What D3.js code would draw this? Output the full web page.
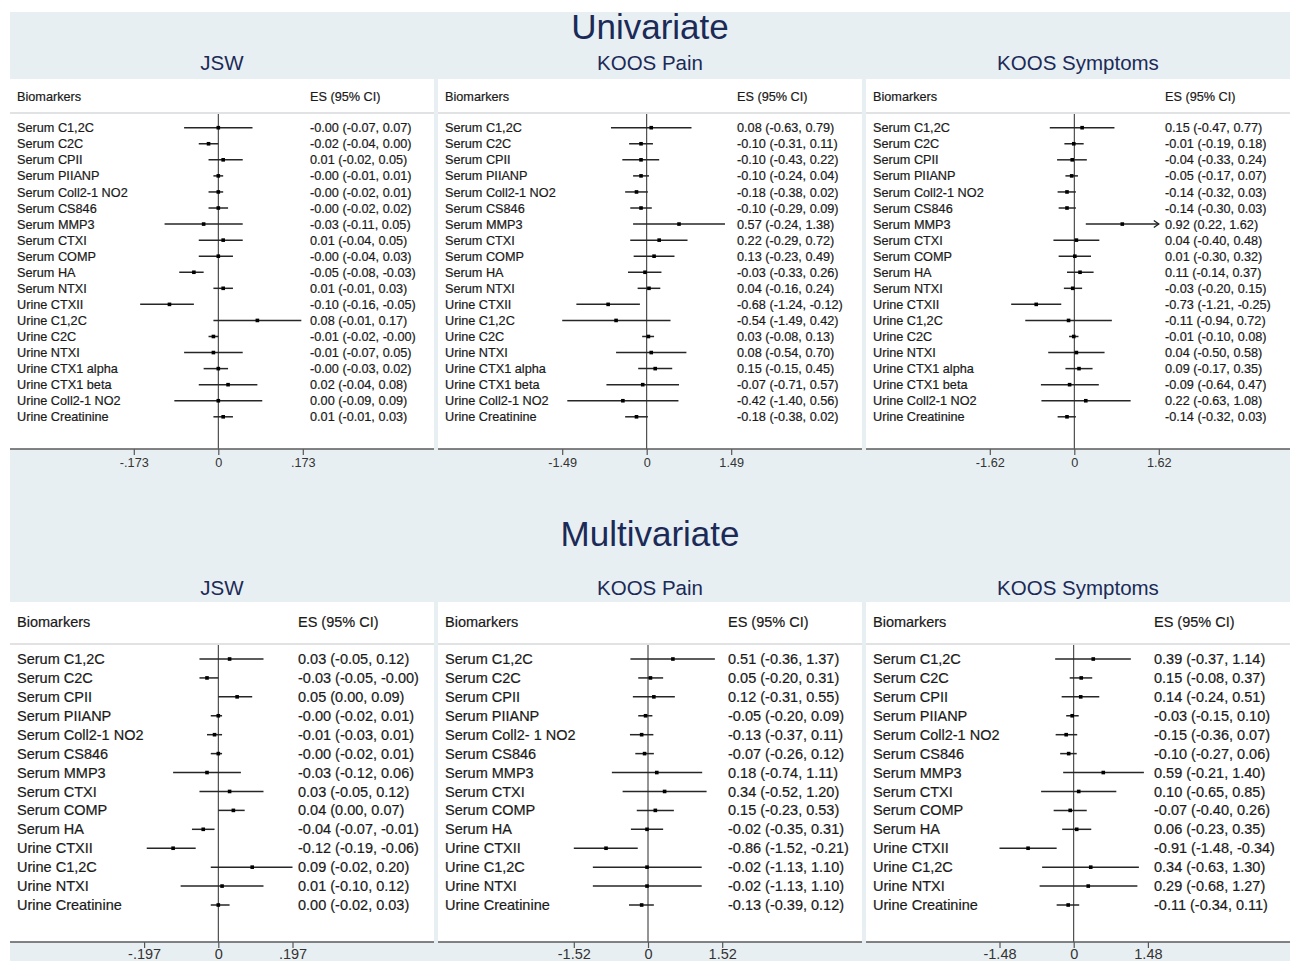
<!DOCTYPE html>
<html>
<head>
<meta charset="utf-8">
<script src="https://cdn.jsdelivr.net/npm/d3@7"></script>
<style>
  body { margin: 0; background: #fff; }
  svg { display: block; font-family: "Liberation Sans", Arial, sans-serif; }
  .txt { stroke: #1a1a1a; stroke-width: 0.2px; }
</style>
</head>
<body>
<div id="d3-container"></div>
<script>
/* CONSTANTS AND GLOBALS */
const width = 1290,
  height = 961,
  bgColor = "#e8eff2",
  navy = "#1b2a57",
  ink = "#1a1a1a";

/* DATA */
const uniMarkers = ["Serum C1,2C", "Serum C2C", "Serum CPII", "Serum PIIANP", "Serum Coll2-1 NO2",
  "Serum CS846", "Serum MMP3", "Serum CTXI", "Serum COMP", "Serum HA", "Serum NTXI", "Urine CTXII",
  "Urine C1,2C", "Urine C2C", "Urine NTXI", "Urine CTX1 alpha", "Urine CTX1 beta", "Urine Coll2-1 NO2",
  "Urine Creatinine"];
const multiMarkers = ["Serum C1,2C", "Serum C2C", "Serum CPII", "Serum PIIANP", "Serum Coll2-1 NO2",
  "Serum CS846", "Serum MMP3", "Serum CTXI", "Serum COMP", "Serum HA", "Urine CTXII", "Urine C1,2C",
  "Urine NTXI", "Urine Creatinine"];
const multiMarkersPain = ["Serum C1,2C", "Serum C2C", "Serum CPII", "Serum PIIANP", "Serum Coll2- 1 NO2",
  "Serum CS846", "Serum MMP3", "Serum CTXI", "Serum COMP", "Serum HA", "Urine CTXII", "Urine C1,2C",
  "Urine NTXI", "Urine Creatinine"];

const outcomes = ["JSW", "KOOS Pain", "KOOS Symptoms"];

// univariate
const uniJswEs = [-0.00, -0.02, 0.01, -0.00, -0.00, -0.00, -0.03, 0.01, -0.00, -0.05, 0.01, -0.10, 0.08, -0.01, -0.01, -0.00, 0.02, 0.00, 0.01];
const uniJswLo = [-0.07, -0.04, -0.02, -0.01, -0.02, -0.02, -0.11, -0.04, -0.04, -0.08, -0.01, -0.16, -0.01, -0.02, -0.07, -0.03, -0.04, -0.09, -0.01];
const uniJswHi = [0.07, 0.00, 0.05, 0.01, 0.01, 0.02, 0.05, 0.05, 0.03, -0.03, 0.03, -0.05, 0.17, -0.00, 0.05, 0.02, 0.08, 0.09, 0.03];

const uniPainEs = [0.08, -0.10, -0.10, -0.10, -0.18, -0.10, 0.57, 0.22, 0.13, -0.03, 0.04, -0.68, -0.54, 0.03, 0.08, 0.15, -0.07, -0.42, -0.18];
const uniPainLo = [-0.63, -0.31, -0.43, -0.24, -0.38, -0.29, -0.24, -0.29, -0.23, -0.33, -0.16, -1.24, -1.49, -0.08, -0.54, -0.15, -0.71, -1.40, -0.38];
const uniPainHi = [0.79, 0.11, 0.22, 0.04, 0.02, 0.09, 1.38, 0.72, 0.49, 0.26, 0.24, -0.12, 0.42, 0.13, 0.70, 0.45, 0.57, 0.56, 0.02];

const uniSympEs = [0.15, -0.01, -0.04, -0.05, -0.14, -0.14, 0.92, 0.04, 0.01, 0.11, -0.03, -0.73, -0.11, -0.01, 0.04, 0.09, -0.09, 0.22, -0.14];
const uniSympLo = [-0.47, -0.19, -0.33, -0.17, -0.32, -0.30, 0.22, -0.40, -0.30, -0.14, -0.20, -1.21, -0.94, -0.10, -0.50, -0.17, -0.64, -0.63, -0.32];
const uniSympHi = [0.77, 0.18, 0.24, 0.07, 0.03, 0.03, 1.62, 0.48, 0.32, 0.37, 0.15, -0.25, 0.72, 0.08, 0.58, 0.35, 0.47, 1.08, 0.03];
const uniSympOffScale = ["Serum MMP3"]; // upper CI runs past the axis, drawn with an arrow

// multivariate
const multiJswEs = [0.03, -0.03, 0.05, -0.00, -0.01, -0.00, -0.03, 0.03, 0.04, -0.04, -0.12, 0.09, 0.01, 0.00];
const multiJswLo = [-0.05, -0.05, 0.00, -0.02, -0.03, -0.02, -0.12, -0.05, 0.00, -0.07, -0.19, -0.02, -0.10, -0.02];
const multiJswHi = [0.12, -0.00, 0.09, 0.01, 0.01, 0.01, 0.06, 0.12, 0.07, -0.01, -0.06, 0.20, 0.12, 0.03];

const multiPainEs = [0.51, 0.05, 0.12, -0.05, -0.13, -0.07, 0.18, 0.34, 0.15, -0.02, -0.86, -0.02, -0.02, -0.13];
const multiPainLo = [-0.36, -0.20, -0.31, -0.20, -0.37, -0.26, -0.74, -0.52, -0.23, -0.35, -1.52, -1.13, -1.13, -0.39];
const multiPainHi = [1.37, 0.31, 0.55, 0.09, 0.11, 0.12, 1.11, 1.20, 0.53, 0.31, -0.21, 1.10, 1.10, 0.12];

const multiSympEs = [0.39, 0.15, 0.14, -0.03, -0.15, -0.10, 0.59, 0.10, -0.07, 0.06, -0.91, 0.34, 0.29, -0.11];
const multiSympLo = [-0.37, -0.08, -0.24, -0.15, -0.36, -0.27, -0.21, -0.65, -0.40, -0.23, -1.48, -0.63, -0.68, -0.34];
const multiSympHi = [1.14, 0.37, 0.51, 0.10, 0.07, 0.06, 1.40, 0.85, 0.26, 0.35, -0.34, 1.30, 1.27, 0.11];

// axis ticks (symmetric around 0)
const uniTicks = [0.173, 1.49, 1.62];
const uniTickLabels = [["-.173", "0", ".173"], ["-1.49", "0", "1.49"], ["-1.62", "0", "1.62"]];
const multiTicks = [0.197, 1.52, 1.48];
const multiTickLabels = [["-.197", "0", ".197"], ["-1.52", "0", "1.52"], ["-1.48", "0", "1.48"]];

/* LAYOUT */
const panelX = [10, 438, 866],
  panelW = 424;

const sections = [
  {
    title: "Univariate", titleY: 39, subY: 70, top: 79, headY: 113, headBase: 100.7,
    axisY: 449, rowTop: 127.7, rowBottom: 416.8, half: 84.5, fontSize: 12.7, baseOff: 4.6,
    esOff: [300, 299, 299], zeroOff: [208.3, 208.7, 208.3], tickPad: 3,
    panels: [
      { labels: uniMarkers, es: uniJswEs, lo: uniJswLo, hi: uniJswHi, off: [] },
      { labels: uniMarkers, es: uniPainEs, lo: uniPainLo, hi: uniPainHi, off: [] },
      { labels: uniMarkers, es: uniSympEs, lo: uniSympLo, hi: uniSympHi, off: uniSympOffScale }
    ],
    ticks: uniTicks, tickLabels: uniTickLabels
  },
  {
    title: "Multivariate", titleY: 546, subY: 595, top: 602, headY: 644, headBase: 626.7,
    axisY: 942, rowTop: 659, rowBottom: 905, half: 74.2, fontSize: 14.5, baseOff: 5.1,
    esOff: [288, 290, 288], zeroOff: [208.3, 210, 207.7], tickPad: 0.6,
    panels: [
      { labels: multiMarkers, es: multiJswEs, lo: multiJswLo, hi: multiJswHi, off: [] },
      { labels: multiMarkersPain, es: multiPainEs, lo: multiPainLo, hi: multiPainHi, off: [] },
      { labels: multiMarkers, es: multiSympEs, lo: multiSympLo, hi: multiSympHi, off: [] }
    ],
    ticks: multiTicks, tickLabels: multiTickLabels
  }
];

// keep the sign on -0.00 like the original table
const fmt = v => (v < 0 || Object.is(v, -0) ? "-" : "") + Math.abs(v).toFixed(2);

/* CREATE SVG ELEMENT */
const svg = d3
  .select("#d3-container")
  .append("svg")
  .attr("width", width)
  .attr("height", height);

svg.append("rect")
  .attr("x", 10).attr("y", 12)
  .attr("width", width - 10).attr("height", height - 12)
  .attr("fill", bgColor);

sections.forEach(sec => {
  svg.append("text")
    .attr("x", 650).attr("y", sec.titleY)
    .attr("text-anchor", "middle")
    .attr("font-size", 35)
    .attr("fill", navy)
    .text(sec.title);

  sec.panels.forEach((p, i) => drawPanel(sec, p, i));
});

/* DRAW ONE FOREST PANEL */
function drawPanel(sec, p, i) {
  const px = panelX[i];
  const g = svg.append("g");

  // outcome title
  g.append("text")
    .attr("x", px + panelW / 2).attr("y", sec.subY)
    .attr("text-anchor", "middle")
    .attr("font-size", 20.5)
    .attr("fill", navy)
    .text(outcomes[i]);

  // white plot area
  g.append("rect")
    .attr("x", px).attr("y", sec.top)
    .attr("width", panelW).attr("height", sec.axisY - sec.top)
    .attr("fill", "#fff");

  g.append("line")
    .attr("x1", px).attr("x2", px + panelW)
    .attr("y1", sec.headY).attr("y2", sec.headY)
    .attr("stroke", "#d6d9db").attr("stroke-width", 1.6);

  // column headers
  g.append("text")
    .attr("class", "txt")
    .attr("x", px + 7).attr("y", sec.headBase)
    .attr("font-size", sec.fontSize).attr("fill", ink)
    .text("Biomarkers");
  g.append("text")
    .attr("class", "txt")
    .attr("x", px + sec.esOff[i]).attr("y", sec.headBase)
    .attr("font-size", sec.fontSize).attr("fill", ink)
    .text("ES (95% CI)");

  // + SCALES
  const t = sec.ticks[i];
  const x0 = px + sec.zeroOff[i];
  const xScale = d3.scaleLinear()
    .domain([-t, t])
    .range([x0 - sec.half, x0 + sec.half])
    .clamp(true);

  const yScale = d3.scalePoint()
    .domain(d3.range(p.labels.length))
    .range([sec.rowTop, sec.rowBottom]);

  const rows = p.labels.map((name, j) => ({
    name, es: p.es[j], lo: p.lo[j], hi: p.hi[j], j, off: p.off.includes(name)
  }));

  // null line
  g.append("line")
    .attr("x1", xScale(0)).attr("x2", xScale(0))
    .attr("y1", sec.headY + 1).attr("y2", sec.axisY)
    .attr("stroke", "#2a2a2a").attr("stroke-width", 1);

  // confidence intervals
  g.selectAll(".ci")
    .data(rows)
    .join("line")
    .attr("class", "ci")
    .attr("x1", d => xScale(d.lo))
    .attr("x2", d => xScale(d.hi))
    .attr("y1", d => yScale(d.j))
    .attr("y2", d => yScale(d.j))
    .attr("stroke", "#262626")
    .attr("stroke-width", 1.5);

  // arrows where the interval runs off the axis
  g.selectAll(".arrow")
    .data(rows.filter(d => d.off))
    .join("path")
    .attr("class", "arrow")
    .attr("d", d => {
      const ax = xScale(d.hi), ay = yScale(d.j);
      return `M${ax - 5},${ay - 3.5}L${ax},${ay}L${ax - 5},${ay + 3.5}`;
    })
    .attr("fill", "none")
    .attr("stroke", "#1e1e1e")
    .attr("stroke-width", 1.3);

  // point estimates
  g.selectAll(".dot")
    .data(rows)
    .join("rect")
    .attr("class", "dot")
    .attr("x", d => xScale(d.es) - 1.8)
    .attr("y", d => yScale(d.j) - 1.8)
    .attr("width", 3.6)
    .attr("height", 3.6)
    .attr("fill", "#000");

  // marker names
  g.selectAll(".name")
    .data(rows)
    .join("text")
    .attr("class", "name txt")
    .attr("x", px + 7)
    .attr("y", d => yScale(d.j) + sec.baseOff)
    .attr("font-size", sec.fontSize)
    .attr("fill", ink)
    .text(d => d.name);

  // ES (95% CI) column
  g.selectAll(".es")
    .data(rows)
    .join("text")
    .attr("class", "es txt")
    .attr("x", px + sec.esOff[i])
    .attr("y", d => yScale(d.j) + sec.baseOff)
    .attr("font-size", sec.fontSize)
    .attr("fill", ink)
    .text(d => `${fmt(d.es)} (${fmt(d.lo)}, ${fmt(d.hi)})`);

  // + AXES
  const labels = sec.tickLabels[i];
  const xAxis = d3.axisBottom(xScale)
    .tickValues([-t, 0, t])
    .tickFormat((d, k) => labels[k])
    .tickSize(6)
    .tickPadding(sec.tickPad)
    .tickSizeOuter(0);

  const axisG = g.append("g")
    .attr("transform", `translate(0,${sec.axisY})`)
    .call(xAxis);
  axisG.select(".domain").remove();
  axisG.selectAll(".tick line").attr("stroke", "#555").attr("stroke-width", 1.2);
  axisG.selectAll(".tick text")
    .attr("font-family", "Liberation Sans, Arial, sans-serif")
    .attr("font-size", sec.fontSize)
    .attr("fill", "#333");

  g.append("line")
    .attr("x1", px).attr("x2", px + panelW)
    .attr("y1", sec.axisY).attr("y2", sec.axisY)
    .attr("stroke", "#5a5a5a").attr("stroke-width", 1.6);
}
</script>
</body>
</html>
